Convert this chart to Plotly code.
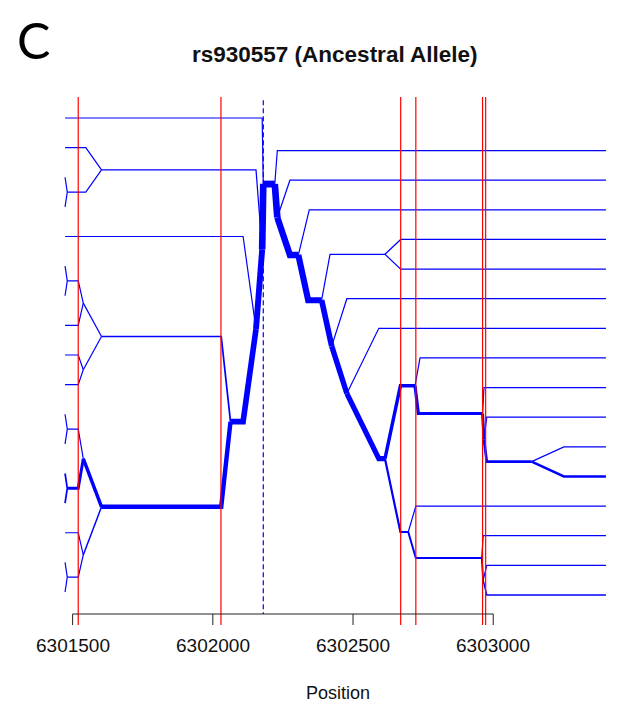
import plotly.graph_objects as go

# ---------------- data ----------------
title_text = "rs930557 (Ancestral Allele)"
panel_letter = "C"
x_label = "Position"
tick_values = [6301500, 6302000, 6302500, 6303000]
tick_labels = ["6301500", "6302000", "6302500", "6303000"]
focal_position = 6302180
red_line_positions = [6301520, 6302029, 6302670, 6302724, 6302962, 6302973]

# left (upstream) bifurcation tree: haplotype count, marker positions (bp), vertical rank
left_counts = [25, 1, 3, 1, 2, 1, 1, 22, 1, 21, 5, 16, 3, 2, 1, 1, 1, 2, 1, 1,
               12, 2, 1, 1, 10, 5, 5, 4, 1, 3, 1, 2]
left_pos = [
    [6302180, 6302176], [6302180, 6302176, 6301473], [6302176, 6302154, 6301603],
    [6301603, 6301547, 6301473], [6301603, 6301547, 6301481], [6301481, 6301473],
    [6301481, 6301473], [6302176, 6302154], [6302154, 6302108, 6301473],
    [6302154, 6302108, 6302063], [6302063, 6302030, 6301603], [6302063, 6302030, 6301603],
    [6301603, 6301538], [6301538, 6301520, 6301481], [6301481, 6301473], [6301481, 6301473],
    [6301538, 6301520, 6301473], [6301603, 6301538], [6301538, 6301520, 6301473],
    [6301538, 6301520, 6301473], [6301603, 6301538], [6301538, 6301520, 6301481],
    [6301481, 6301473], [6301481, 6301473], [6301538, 6301520, 6301481],
    [6301481, 6301473], [6301481, 6301473], [6301603, 6301538],
    [6301538, 6301520, 6301473], [6301538, 6301520, 6301481], [6301481, 6301473],
    [6301481, 6301473],
]
left_rank = [
    [2.22, 4.44], [2.22, 0, 0], [4.44, 1.75, 1.75],
    [1.75, 1, 1], [1.75, 2.5, 2.5], [2.5, 2],
    [2.5, 3], [4.44, 7.125], [7.125, 4, 4],
    [7.125, 10.25, 10.25], [10.25, 7.375, 7.375], [10.25, 13.125, 13.125],
    [7.375, 6.25], [6.25, 5.5, 5.5], [5.5, 5], [5.5, 6],
    [6.25, 7, 7], [7.375, 8.5], [8.5, 8, 8],
    [8.5, 9, 9], [13.125, 11.5], [11.5, 10.5, 10.5],
    [10.5, 10], [10.5, 11], [11.5, 12.5, 12.5],
    [12.5, 12], [12.5, 13], [13.125, 14.75],
    [14.75, 14, 14], [14.75, 15.5, 15.5], [15.5, 15],
    [15.5, 16],
]

# right (downstream) bifurcation tree
right_counts = [26, 1, 25, 1, 24, 1, 23, 2, 1, 1, 21, 1, 20, 1, 19, 12, 1, 11, 1, 10,
                1, 9, 1, 8, 7, 1, 6, 1, 5, 1, 4]
right_pos = [
    [6302180, 6302221], [6302221, 6302230, 6303402], [6302221, 6302230],
    [6302230, 6302275, 6303402], [6302230, 6302275, 6302305], [6302305, 6302344, 6303402],
    [6302305, 6302340, 6302388], [6302388, 6302418, 6302614], [6302614, 6302670, 6303402],
    [6302614, 6302670, 6303402], [6302388, 6302424], [6302424, 6302478, 6303402],
    [6302424, 6302478], [6302478, 6302592, 6303402], [6302478, 6302592, 6302614],
    [6302614, 6302669, 6302721], [6302721, 6302739, 6303402], [6302721, 6302733, 6302962],
    [6302962, 6302967, 6303402], [6302962, 6302967], [6302967, 6302977, 6303402],
    [6302967, 6302977, 6303137], [6303137, 6303252, 6303402], [6303137, 6303252, 6303402],
    [6302614, 6302669, 6302697], [6302697, 6302724, 6303402], [6302697, 6302724, 6302959],
    [6302959, 6302964, 6303402], [6302959, 6302964], [6302964, 6302977, 6303402],
    [6302964, 6302977, 6303402],
]
right_rank = [
    [2.23, 2.23], [2.23, 1.1, 1.1], [2.23, 3.36],
    [3.36, 2.1, 2.1], [3.36, 4.625, 4.625], [4.625, 3.1, 3.1],
    [4.625, 6.15, 6.15], [6.15, 4.6, 4.6], [4.6, 4.1, 4.1],
    [4.6, 5.1, 5.1], [6.15, 7.7], [7.7, 6.1, 6.1],
    [7.7, 9.3], [9.3, 7.1, 7.1], [9.3, 11.5, 11.5],
    [11.5, 9.04, 9.04], [9.04, 8.1, 8.1], [9.04, 9.975, 9.975],
    [9.975, 9.1, 9.1], [9.975, 10.85], [10.85, 10.1, 10.1],
    [10.85, 11.6, 11.6], [11.6, 11.1, 11.1], [11.6, 12.1, 12.1],
    [11.5, 13.975, 13.975], [13.975, 13.1, 13.1], [13.975, 14.85, 14.85],
    [14.85, 14.1, 14.1], [14.85, 15.6], [15.6, 15.1, 15.1],
    [15.6, 16.1, 16.1],
]

# ---------------- figure ----------------
BLUE = "#0000FF"
FONT = "Liberation Sans, Arial, sans-serif"

def width_for(n):
    return max(1.2, 0.5 + 0.245 * n)

fig = go.Figure()

groups = {}
for counts, pos, rank in ((left_counts, left_pos, left_rank),
                          (right_counts, right_pos, right_rank)):
    for n, xs, ys in zip(counts, pos, rank):
        gx, gy = groups.setdefault(n, ([], []))
        gx.extend(xs + [None])
        gy.extend(ys + [None])

for n in sorted(groups):
    gx, gy = groups[n]
    fig.add_trace(go.Scatter(
        x=gx, y=gy, mode="lines", hoverinfo="skip", showlegend=False,
        line=dict(color=BLUE, width=width_for(n)),
        connectgaps=False,
    ))

PLOT_H = 528.0
shapes = []
# focal SNP
shapes.append(dict(type="line", xref="x", yref="y", x0=focal_position, x1=focal_position,
                   y0=-0.6, y1=16.74, layer="above",
                   line=dict(color=BLUE, width=1.2, dash="5px,3px")))
for p in red_line_positions:
    shapes.append(dict(type="line", xref="x", yref="paper", x0=p, x1=p, y0=0, y1=1,
                       layer="above", line=dict(color="#FF0000", width=1.2)))
# x axis line + ticks (R style: line spans first to last tick)
shapes.append(dict(type="line", xref="x", yref="y", x0=tick_values[0], x1=tick_values[-1],
                   y0=16.743, y1=16.743, line=dict(color="#222222", width=1)))
for t in tick_values:
    shapes.append(dict(type="line", xref="x", yref="paper", x0=t, x1=t,
                       y0=0, y1=11 / PLOT_H, line=dict(color="#222222", width=1)))

annotations = []
for t, lab in zip(tick_values, tick_labels):
    annotations.append(dict(x=t, xref="x", y=-20 / PLOT_H, yref="paper",
                            text=lab, showarrow=False, xanchor="center", yanchor="middle",
                            font=dict(family=FONT, size=19, color="#111111")))
annotations.append(dict(x=6302446, xref="x", y=-68 / PLOT_H, yref="paper",
                        text=x_label, showarrow=False, xanchor="center", yanchor="middle",
                        font=dict(family=FONT, size=18, color="#111111")))
annotations.append(dict(x=6302436, xref="x", y=570 / PLOT_H, yref="paper",
                        text="<b>" + title_text + "</b>", showarrow=False,
                        xanchor="center", yanchor="middle",
                        font=dict(family=FONT, size=22.5, color="#111111")))
annotations.append(dict(x=3 / 588, xref="paper", y=585 / PLOT_H, yref="paper",
                        text=panel_letter, showarrow=False, xanchor="center", yanchor="middle",
                        font=dict(family="Lato, Open Sans, sans-serif", size=50, color="#000000")))

# the page body adds an 8px offset, so the figure is 8px smaller and shifted accordingly
fig.update_layout(
    width=610, height=701,
    margin=dict(l=22, r=0, t=89, b=84, pad=0),
    paper_bgcolor="white", plot_bgcolor="white",
    xaxis=dict(range=[6301348, 6303445], visible=False, fixedrange=True),
    yaxis=dict(range=[17.114, -0.709], visible=False, fixedrange=True),
    shapes=shapes, annotations=annotations,
    showlegend=False,
)

fig.write_html("out.html")
